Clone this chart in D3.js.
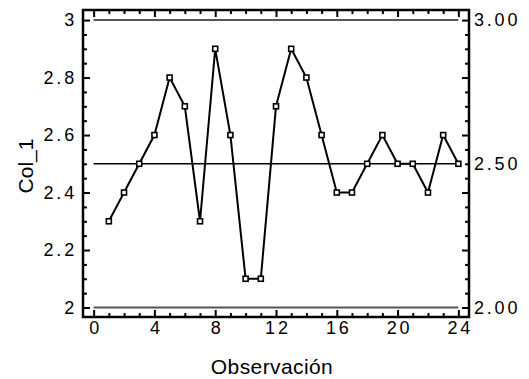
<!DOCTYPE html>
<html>
<head>
<meta charset="utf-8">
<script src="https://cdn.jsdelivr.net/npm/d3@7"></script>
<style>
  body { margin: 0; background: #fff; }
  text { font-family: "Liberation Sans", Arial, sans-serif; fill: #000; }
</style>
</head>
<body>
<script>
// observation numbers and values
const obs = d3.range(1, 25);
const values = [2.3, 2.4, 2.5, 2.6, 2.8, 2.7, 2.3, 2.9, 2.6, 2.1, 2.1, 2.7,
                2.9, 2.8, 2.6, 2.4, 2.4, 2.5, 2.6, 2.5, 2.5, 2.4, 2.6, 2.5];
const limits = [3.0, 2.5, 2.0];
const limitLabels = ['3.00', '2.50', '2.00'];
const xTicks = [0, 4, 8, 12, 16, 20, 24];
const yTicks = [2, 2.2, 2.4, 2.6, 2.8, 3];

const W = 529, H = 379;
const margin = { top: 10, right: 60, bottom: 62, left: 83 };
const width = W - margin.left - margin.right;
const height = H - margin.top - margin.bottom;
const LS = 2.8; // wide letter spacing of the numbers

const svg = d3.select('body').append('svg')
  .attr('width', W)
  .attr('height', H);

const g = svg.append('g')
  .attr('transform', `translate(${margin.left},${margin.top})`);

const x = d3.scaleLinear().domain([-0.7, 24.7]).range([0, width]);
const y = d3.scaleLinear().domain([1.967, 3.035]).range([height, 0]);

// center line and limits
g.selectAll('.limit')
  .data(limits)
  .enter().append('line')
  .attr('x1', x(0))
  .attr('x2', x(24))
  .attr('y1', d => y(d))
  .attr('y2', d => y(d))
  .attr('stroke', (d, i) => i === 1 ? '#000' : '#555')
  .attr('stroke-width', (d, i) => i === 1 ? 1.6 : 2);

// data line
const line = d3.line()
  .x((d, i) => x(obs[i]))
  .y(d => y(d));

g.append('path')
  .datum(values)
  .attr('fill', 'none')
  .attr('stroke', '#000')
  .attr('stroke-width', 2)
  .attr('d', line);

g.selectAll('.dot')
  .data(values)
  .enter().append('rect')
  .attr('x', (d, i) => x(obs[i]) - 2.5)
  .attr('y', d => y(d) - 2.5)
  .attr('width', 5)
  .attr('height', 5)
  .attr('fill', '#fff')
  .attr('stroke', '#000')
  .attr('stroke-width', 1.6);

// axes with inward ticks
const minorX = d3.range(0, 25, 1).filter(d => d % 4 !== 0);
const minorY = d3.range(1.95, 3.04, 0.05).map(d => +d.toFixed(2))
  .filter(d => d >= 1.967 && !yTicks.some(t => Math.abs(t - d) < 1e-6));

function styleAxis(sel) {
  sel.select('.domain').remove();
  sel.selectAll('line').attr('stroke', '#000').attr('stroke-width', 2);
  sel.selectAll('text')
    .style('font-size', '18px')
    .style('letter-spacing', LS + 'px')
    .style('font-family', '"Liberation Sans", Arial, sans-serif');
}

// bottom
g.append('g')
  .attr('transform', `translate(0,${height})`)
  .call(d3.axisBottom(x).tickValues(xTicks).tickSize(-7).tickPadding(4).tickFormat(d3.format('d')))
  .call(styleAxis)
  .selectAll('text').attr('x', LS / 2);
g.append('g')
  .attr('transform', `translate(0,${height})`)
  .call(d3.axisBottom(x).tickValues(minorX).tickSize(-4).tickFormat(''))
  .call(styleAxis);

// top
g.append('g')
  .call(d3.axisTop(x).tickValues(xTicks).tickSize(-7).tickFormat(''))
  .call(styleAxis);
g.append('g')
  .call(d3.axisTop(x).tickValues(minorX).tickSize(-4).tickFormat(''))
  .call(styleAxis);

// left
g.append('g')
  .call(d3.axisLeft(y).tickValues(yTicks).tickSize(-7).tickPadding(6).tickFormat(d3.format('~g')))
  .call(styleAxis);
g.append('g')
  .call(d3.axisLeft(y).tickValues(minorY).tickSize(-4).tickFormat(''))
  .call(styleAxis);

// right
g.append('g')
  .attr('transform', `translate(${width},0)`)
  .call(d3.axisRight(y).tickValues(yTicks).tickSize(-7).tickFormat(''))
  .call(styleAxis);
g.append('g')
  .attr('transform', `translate(${width},0)`)
  .call(d3.axisRight(y).tickValues(minorY).tickSize(-4).tickFormat(''))
  .call(styleAxis);

// limit labels on right
g.selectAll('.limLabel')
  .data(limits)
  .enter().append('text')
  .attr('x', width + 5)
  .attr('y', d => y(d))
  .attr('dy', '0.35em')
  .style('font-size', '18px')
  .style('letter-spacing', LS + 'px')
  .text((d, i) => limitLabels[i]);

// frame
g.append('rect')
  .attr('width', width)
  .attr('height', height)
  .attr('fill', 'none')
  .attr('stroke', '#000')
  .attr('stroke-width', 2.5);

// axis titles
svg.append('text')
  .attr('x', 272)
  .attr('y', 374)
  .attr('text-anchor', 'middle')
  .style('font-size', '21px')
  .style('letter-spacing', '0.4px')
  .text('Observación');

svg.append('text')
  .attr('transform', 'translate(33,166) rotate(-90)')
  .attr('text-anchor', 'middle')
  .style('font-size', '21px')
  .text('Col_1');
</script>
</body>
</html>
